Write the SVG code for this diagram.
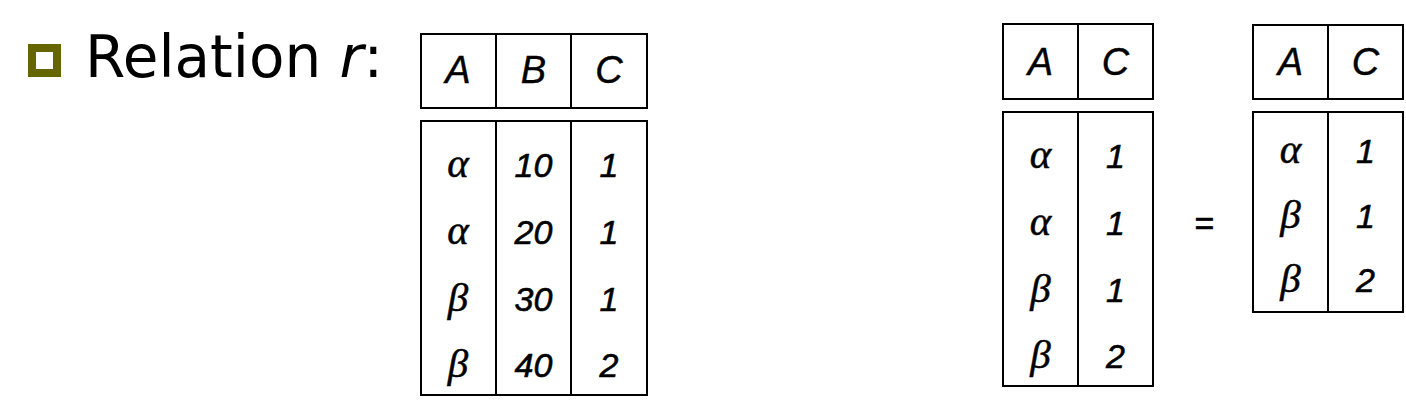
<svg xmlns="http://www.w3.org/2000/svg" width="1406" height="414" viewBox="0 0 1406 414">
<style>
.cell{fill:#fff;stroke:#000;stroke-width:2}
.ln{stroke:#000;stroke-width:2}
.h{font-family:"Liberation Sans",Arial,sans-serif;font-style:italic;font-size:38px;text-anchor:middle;fill:#000;stroke:#000;stroke-width:0.4}
.d{font-family:"Liberation Sans",Arial,sans-serif;font-style:italic;font-size:34px;text-anchor:middle;fill:#000;stroke:#000;stroke-width:0.6}
.g{font-family:"Liberation Serif","Times New Roman",serif;font-style:italic;font-size:41px;text-anchor:middle;fill:#000;stroke:#000;stroke-width:0.5}
.t{font-family:"DejaVu Sans",Verdana,sans-serif;font-size:58px;fill:#000}
</style>
<rect width="1406" height="414" fill="#fff"/>
<g id="title">
<rect x="32" y="48" width="25" height="25" fill="#fff" stroke="#666600" stroke-width="8"/>
<text class="t" x="85" y="77">Relation <tspan font-style="italic">r</tspan>:</text>
</g>
<g id="relation-r">
<rect class="cell" x="421" y="34" width="226" height="74"/>
<line class="ln" x1="496" y1="34" x2="496" y2="108"/>
<line class="ln" x1="571" y1="34" x2="571" y2="108"/>
<text class="h" x="458" y="83">A</text>
<text class="h" x="533.5" y="83">B</text>
<text class="h" x="609" y="83">C</text>
<rect class="cell" x="421" y="121" width="226" height="274"/>
<line class="ln" x1="496" y1="121" x2="496" y2="395"/>
<line class="ln" x1="571" y1="121" x2="571" y2="395"/>
<text class="g" x="458" y="177">α</text>
<text class="g" x="458" y="244">α</text>
<text class="g" x="458" y="311">β</text>
<text class="g" x="458" y="377">β</text>
<text class="d" x="533.5" y="177">10</text>
<text class="d" x="533.5" y="244">20</text>
<text class="d" x="533.5" y="311">30</text>
<text class="d" x="533.5" y="377">40</text>
<text class="d" x="609" y="177">1</text>
<text class="d" x="609" y="244">1</text>
<text class="d" x="609" y="311">1</text>
<text class="d" x="609" y="377">2</text>
</g>
<g id="projection-raw">
<rect class="cell" x="1003" y="24" width="150" height="75"/>
<line class="ln" x1="1078" y1="24" x2="1078" y2="99"/>
<text class="h" x="1040.5" y="75">A</text>
<text class="h" x="1115.5" y="75">C</text>
<rect class="cell" x="1003" y="112" width="150" height="274"/>
<line class="ln" x1="1078" y1="112" x2="1078" y2="386"/>
<text class="g" x="1040.5" y="168">α</text>
<text class="g" x="1040.5" y="235">α</text>
<text class="g" x="1040.5" y="302">β</text>
<text class="g" x="1040.5" y="368">β</text>
<text class="d" x="1115.5" y="168">1</text>
<text class="d" x="1115.5" y="235">1</text>
<text class="d" x="1115.5" y="302">1</text>
<text class="d" x="1115.5" y="368">2</text>
</g>
<g id="equals">
<text class="d" x="1204" y="235" font-style="normal" font-size="38px">=</text>
</g>
<g id="projection-result">
<rect class="cell" x="1253" y="25" width="150" height="74"/>
<line class="ln" x1="1328" y1="25" x2="1328" y2="99"/>
<text class="h" x="1290.5" y="75">A</text>
<text class="h" x="1365.5" y="75">C</text>
<rect class="cell" x="1253" y="112" width="150" height="200"/>
<line class="ln" x1="1328" y1="112" x2="1328" y2="312"/>
<text class="g" x="1290.5" y="163">α</text>
<text class="g" x="1290.5" y="228">β</text>
<text class="g" x="1290.5" y="292">β</text>
<text class="d" x="1365.5" y="163">1</text>
<text class="d" x="1365.5" y="228">1</text>
<text class="d" x="1365.5" y="292">2</text>
</g>
</svg>
